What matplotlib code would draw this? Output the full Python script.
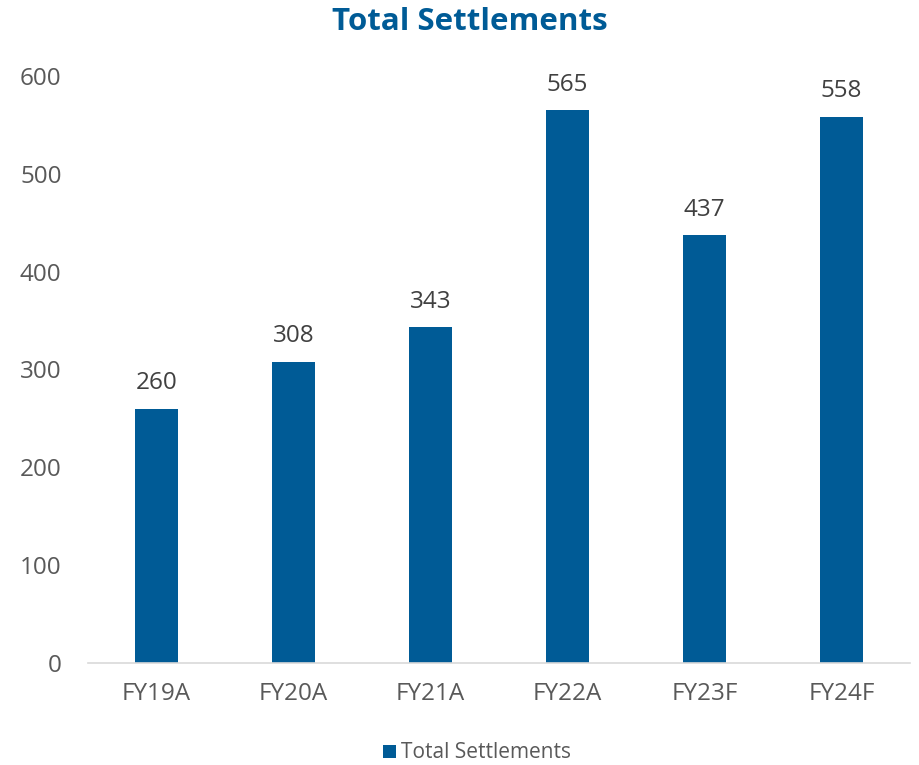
import matplotlib.pyplot as plt

plt.rcParams['font.family'] = ['Open Sans', 'DejaVu Sans']

categories = ['FY19A', 'FY20A', 'FY21A', 'FY22A', 'FY23F', 'FY24F']
settlements = [260, 308, 343, 565, 437, 558]

blue = '#005B96'
grey = '#595959'

fig = plt.figure(figsize=(9.19, 7.65), dpi=100, facecolor='white')
ax = fig.add_axes([88/919, 1-663/765, 822/919, (663-76)/765])

x = range(len(categories))
bars = ax.bar(x, settlements, width=0.32, color=blue, label='Total Settlements', zorder=2)
for xi, v in zip(x, settlements):
    ax.text(xi, v + 14, str(v), ha='center', va='bottom', fontsize=17.5, color='#404040')

ax.set_xlim(-0.5, len(categories) - 0.5)
ax.set_ylim(0, 600)
ax.set_yticks(range(0, 601, 100))
ax.set_xticks(list(x))
ax.set_xticklabels(categories)
ax.tick_params(axis='both', length=0, labelsize=17.5, colors=grey)
ax.tick_params(axis='x', pad=14)
ax.tick_params(axis='y', pad=19)

for s in ['top', 'right', 'left']:
    ax.spines[s].set_visible(False)
ax.spines['bottom'].set_color('#d9d9d9')
ax.spines['bottom'].set_linewidth(1.2)

fig.text(470/919, 1-22/765, 'Total Settlements', ha='center', va='center',
         fontsize=22.5, fontweight='bold', color=blue)

fig.legend(handles=[bars], labels=['Total Settlements'], loc='center',
           bbox_to_anchor=(477/919, 1-753/765), frameon=False, fontsize=15,
           labelcolor=grey, handlelength=0.6, handleheight=0.6, handletextpad=0.25)

fig.savefig('out.png', dpi=100)
